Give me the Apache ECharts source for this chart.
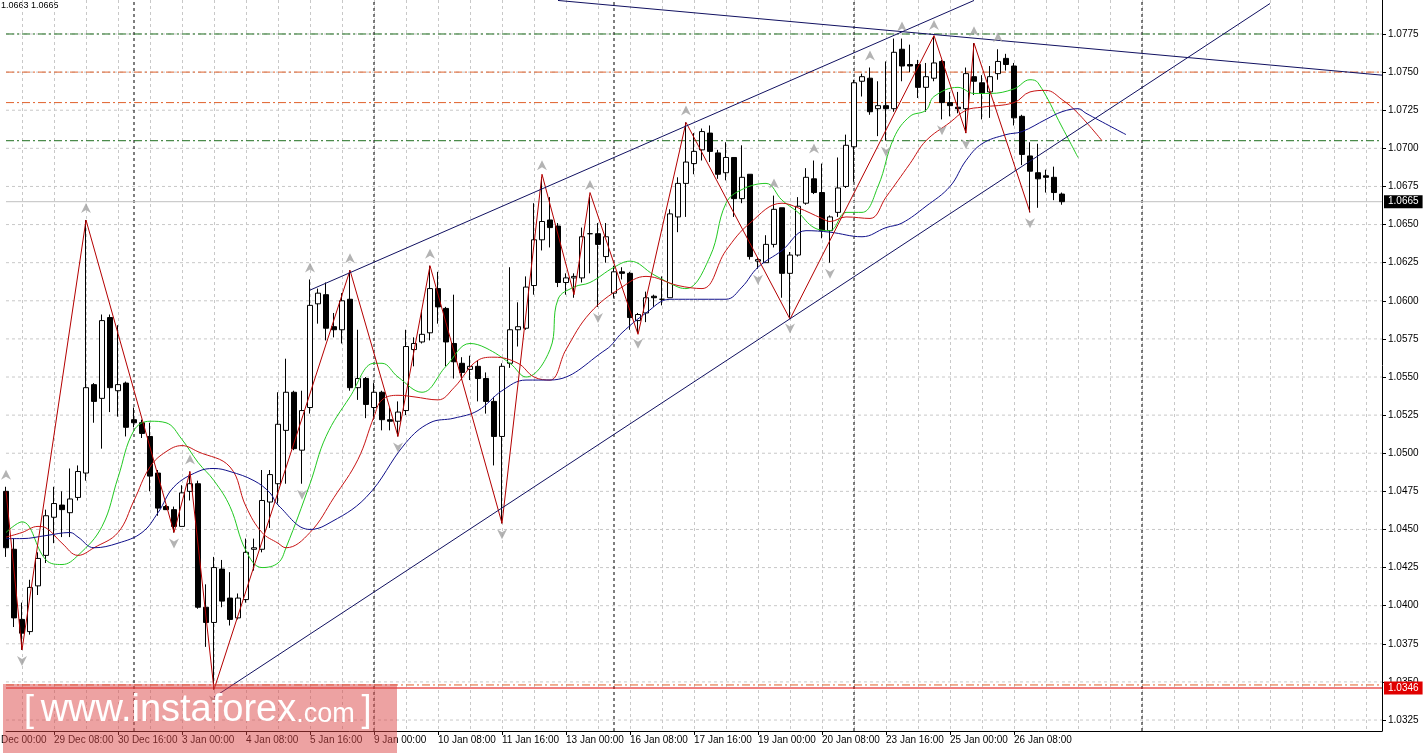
<!DOCTYPE html>
<html>
<head>
<meta charset="utf-8">
<script src="https://cdn.jsdelivr.net/npm/echarts@6/dist/echarts.min.js"></script>
<style>
  html, body { margin: 0; padding: 0; background: #fff; }
  #chart { width: 1425px; height: 753px; }
</style>
</head>
<body>
<div id="chart"></div>
<script>
// H4 candles, prices in pips (x 0.0001)
const opens = [10475,10437,10391,10383,10413,10433,10458,10466,10461,10471,10487,10545,10536,10589,10541,10546,10522,10520,10511,10487,10465,10463,10452,10475,10480,10399,10389,10424,10405,10392,10404,10437,10437,10468,10480,10515,10540,10502,10530,10598,10604,10583,10581,10601,10543,10549,10530,10540,10522,10521,10528,10568,10573,10579,10608,10595,10572,10559,10555,10557,10549,10534,10511,10559,10581,10582,10610,10640,10653,10649,10612,10615,10615,10644,10644,10629,10605,10619,10618,10587,10592,10603,10601,10602,10655,10677,10690,10699,10710,10697,10684,10694,10667,10683,10626,10625,10637,10661,10618,10630,10664,10680,10671,10646,10658,10675,10701,10744,10746,10726,10728,10726,10765,10755,10755,10740,10746,10757,10730,10727,10726,10747,10743,10737,10749,10759,10754,10721,10695,10684,10682,10681,10670];
const closes = [10438,10392,10382,10412,10431,10459,10467,10463,10470,10488,10543,10534,10587,10543,10545,10517,10520,10513,10485,10464,10463,10452,10474,10480,10399,10389,10425,10403,10391,10405,10435,10438,10469,10486,10519,10540,10503,10528,10597,10605,10582,10581,10600,10543,10549,10532,10540,10522,10521,10527,10570,10572,10578,10608,10596,10573,10560,10553,10557,10549,10534,10511,10557,10581,10583,10609,10640,10652,10648,10612,10615,10616,10642,10644,10637,10642,10619,10618,10589,10591,10602,10602,10601,10657,10677,10691,10698,10711,10698,10683,10694,10667,10681,10629,10627,10637,10660,10618,10630,10662,10681,10671,10646,10655,10674,10702,10743,10747,10724,10728,10726,10763,10754,10754,10740,10747,10756,10730,10728,10726,10749,10744,10736,10747,10757,10755,10720,10696,10685,10680,10681,10671,10665];
const highs = [10478,10444,10402,10417,10435,10463,10478,10475,10490,10492,10653,10546,10591,10591,10584,10547,10530,10522,10520,10489,10466,10465,10479,10488,10482,10414,10432,10430,10422,10408,10444,10444,10489,10489,10540,10562,10541,10541,10614,10608,10612,10592,10605,10620,10581,10550,10546,10541,10530,10534,10581,10576,10594,10623,10619,10596,10604,10563,10564,10561,10553,10537,10559,10622,10599,10616,10664,10681,10668,10651,10618,10618,10648,10668,10651,10651,10623,10622,10619,10592,10606,10604,10616,10660,10681,10717,10710,10713,10715,10699,10704,10694,10702,10683,10628,10643,10669,10661,10632,10668,10687,10692,10690,10656,10694,10709,10745,10749,10753,10744,10757,10772,10772,10768,10758,10756,10773,10758,10737,10737,10753,10769,10748,10754,10765,10762,10756,10722,10704,10703,10686,10688,10671];
const lows = [10432,10386,10371,10381,10407,10428,10441,10445,10445,10469,10482,10520,10503,10527,10524,10511,10517,10510,10475,10459,10463,10448,10452,10469,10398,10373,10345,10399,10387,10391,10402,10423,10435,10451,10467,10480,10502,10480,10526,10585,10574,10576,10572,10541,10535,10523,10522,10515,10515,10511,10525,10557,10572,10574,10585,10557,10549,10548,10548,10534,10526,10492,10454,10556,10570,10581,10604,10633,10635,10609,10604,10602,10612,10618,10596,10625,10602,10614,10581,10579,10586,10596,10597,10602,10645,10655,10683,10692,10691,10680,10679,10655,10664,10627,10621,10625,10635,10602,10589,10629,10663,10670,10641,10625,10655,10674,10678,10734,10722,10708,10705,10724,10744,10750,10733,10724,10744,10719,10721,10723,10710,10735,10719,10720,10745,10751,10715,10689,10658,10661,10671,10666,10663];

// moving averages: [bar index, pips]
const maGreen = [[0,10448],[2,10455],[5,10430],[7,10427],[9,10433],[12,10452],[14,10484],[16,10515],[18,10521],[20,10520],[22,10509],[24,10494],[26,10482],[28,10465],[30,10436],[32,10425],[34,10428],[35,10438],[38,10480],[40,10511],[43,10537],[46,10559],[47,10559],[49,10550],[52,10540],[55,10557],[58,10572],[60,10569],[63,10559],[65,10550],[68,10568],[69,10601],[71,10609],[73,10612],[76,10622],[78,10626],[81,10617],[84,10609],[85,10608],[88,10629],[90,10664],[92,10673],[95,10677],[97,10666],[99,10658],[101,10648],[103,10646],[105,10658],[107,10658],[109,10675],[111,10707],[113,10721],[115,10725],[116,10734],[119,10740],[121,10736],[123,10736],[126,10739],[128,10745],[129,10743],[132,10714],[134,10694]];
const maRed = [[0,10445],[2,10448],[4,10452],[5,10451],[7,10441],[9,10433],[11,10438],[14,10448],[16,10469],[18,10491],[20,10501],[22,10505],[24,10501],[28,10491],[30,10465],[32,10448],[34,10441],[35,10438],[38,10448],[41,10471],[44,10496],[46,10524],[47,10535],[49,10538],[51,10537],[54,10535],[56,10543],[59,10561],[61,10563],[64,10559],[66,10550],[68,10548],[70,10568],[73,10592],[77,10609],[80,10616],[84,10610],[87,10608],[90,10633],[93,10651],[97,10664],[99,10661],[102,10654],[103,10652],[105,10655],[108,10654],[110,10668],[113,10690],[115,10705],[118,10717],[120,10725],[122,10727],[126,10730],[128,10737],[130,10738],[132,10732],[134,10723],[137,10705]];
const maBlue = [[0,10444],[2,10444],[5,10446],[8,10448],[9,10445],[11,10438],[14,10441],[17,10448],[19,10461],[21,10478],[24,10488],[26,10490],[28,10488],[31,10482],[33,10474],[34,10466],[38,10450],[40,10453],[45,10471],[50,10507],[53,10520],[56,10523],[59,10528],[62,10541],[65,10548],[68,10548],[75,10568],[77,10579],[80,10592],[83,10601],[87,10601],[90,10601],[92,10609],[94,10622],[97,10633],[100,10646],[103,10645],[107,10642],[110,10648],[112,10651],[115,10662],[118,10675],[120,10692],[122,10703],[125,10709],[127,10711],[130,10719],[132,10724],[134,10726],[135,10723],[140,10709]];

// zigzag pivots
const zigzag = [[0,10475],[2,10371],[10,10653],[21,10448],[23,10488],[26,10345],[43,10620],[49,10511],[53,10623],[62,10454],[67,10683],[71,10604],[73,10671],[79,10578],[85,10717],[98,10588],[116,10774],[120,10710],[121,10769],[128,10658]];
// drawn trend lines
const lineTop = [[69,10797],[172,10748]];
const channelUp = [[38,10607],[121,10797]];
const channelLow = [[26,10340],[158,10795]];

const fractalUp = [0,10,23,38,43,53,67,73,85,96,101,108,112,116,121,124];
const fractalDown = [2,21,26,37,49,62,74,79,94,98,103,110,117,120,128];

const levelsGreen = [10775, 10705];
const levelsOrange = [10750, 10730, 10348];
const supportLevel = 10346;
const lastPrice = 10665;
const priceTicks = [10325,10350,10375,10400,10425,10450,10475,10500,10525,10550,10575,10600,10625,10650,10675,10700,10725,10750,10775];
const weekStarts = [16, 46, 76, 106, 142];

const labelIdx = [6,14,22,30,38,46,54,62,70,78,86,94,102,110,118,126];
const labelText = ['29 Dec 08:00','30 Dec 16:00','3 Jan 00:00','4 Jan 08:00','5 Jan 16:00','9 Jan 00:00','10 Jan 08:00','11 Jan 16:00','13 Jan 00:00','16 Jan 08:00','17 Jan 16:00','19 Jan 00:00','20 Jan 08:00','23 Jan 16:00','25 Jan 00:00','26 Jan 08:00'];

const N = 173;
const Y_MIN = 1.03178, Y_MAX = 1.07973;
const P = v => v / 10000;
const cats = Array.from({length: N}, (_, i) => String(i));
const candles = opens.map((o, i) => [P(o), P(closes[i]), P(lows[i]), P(highs[i])]);
const pts = arr => arr.map(d => [d[0], P(d[1])]);
const labelMap = {};
labelIdx.forEach((ix, k) => labelMap[ix] = labelText[k]);

const chart = echarts.init(document.getElementById('chart'));
const font = 'Liberation Sans';
const dashDot = [8, 3, 2, 3];

function hLine(v, color, type, z, tag) {
    const s = {type: 'line', data: [[0, P(v)], [N - 1, P(v)]], showSymbol: false, silent: true,
        lineStyle: {color: color, type: type, width: 1}, z: z};
    if (tag) {
        s.endLabel = {show: true, formatter: P(v).toFixed(4), backgroundColor: tag.bg, color: tag.fg,
            padding: [2, 4, 1, 4], fontSize: 10, fontFamily: font, distance: 2};
    }
    return s;
}
function vLine(ix) {
    return {type: 'line', data: [[ix, Y_MIN], [ix, Y_MAX]], showSymbol: false, silent: true,
        lineStyle: {color: '#000', type: [3, 3], width: 1}, z: 1};
}

const upArrow = 'path://M5 0 L10 10 L5 7 L0 10 Z';
const downArrow = 'path://M0 0 L5 3 L10 0 L5 10 Z';

const series = [];
priceTicks.forEach(v => series.push(hLine(v, '#c8c8c8', [3, 3], 1)));
weekStarts.forEach(ix => series.push(vLine(ix)));
levelsGreen.forEach(v => series.push(hLine(v, '#1e6e1e', dashDot, 2)));
levelsOrange.forEach(v => series.push(hLine(v, '#e0602a', dashDot, 2)));
series.push(hLine(lastPrice, '#c0c0c0', 'solid', 2, {bg: '#000', fg: '#fff'}));
series.push(hLine(supportLevel, '#e00000', 'solid', 2, {bg: '#e00000', fg: '#fff'}));
series.push(
    {
        type: 'candlestick',
        data: candles,
        barWidth: 5,
        itemStyle: {color: '#fff', color0: '#000', borderColor: '#000', borderColor0: '#000', borderWidth: 1},
        z: 3
    },
    {type: 'line', data: pts(maGreen), smooth: 0.4, showSymbol: false, lineStyle: {color: '#22c922', width: 1}, z: 4},
    {type: 'line', data: pts(maRed), smooth: 0.4, showSymbol: false, lineStyle: {color: '#c81414', width: 1}, z: 4},
    {type: 'line', data: pts(maBlue), smooth: 0.4, showSymbol: false, lineStyle: {color: '#10108a', width: 1}, z: 4},
    {type: 'line', data: pts(zigzag), showSymbol: false, lineStyle: {color: '#b40000', width: 1}, z: 5},
    {type: 'line', data: pts(lineTop), showSymbol: false, lineStyle: {color: '#101060', width: 1}, z: 5},
    {type: 'line', data: pts(channelUp), showSymbol: false, lineStyle: {color: '#101060', width: 1}, z: 5},
    {type: 'line', data: pts(channelLow), showSymbol: false, lineStyle: {color: '#101060', width: 1}, z: 5},
    {type: 'scatter', data: fractalUp.map(i => [i, P(highs[i])]), symbol: upArrow, symbolSize: [10, 10], symbolOffset: [0, -12],
        itemStyle: {color: '#a0a0a0'}, z: 6},
    {type: 'scatter', data: fractalDown.map(i => [i, P(lows[i])]), symbol: downArrow, symbolSize: [10, 10], symbolOffset: [0, 11],
        itemStyle: {color: '#a0a0a0'}, z: 6}
);

chart.setOption({
    animation: false,
    backgroundColor: '#fff',
    grid: {left: 6, top: 0, right: 43, bottom: 22},
    xAxis: {
        type: 'category',
        data: cats,
        boundaryGap: false,
        axisLine: {lineStyle: {color: '#000'}},
        axisTick: {show: true, length: 4, interval: i => labelMap[i] !== undefined, lineStyle: {color: '#000'}},
        axisLabel: {interval: 0, align: 'left', margin: 4, fontSize: 10, fontFamily: font, color: '#000',
            formatter: (v, i) => labelMap[i] || ''},
        splitLine: {show: true, interval: i => (i - 2) % 4 === 0, lineStyle: {color: '#c8c8c8', type: [3, 3]}}
    },
    yAxis: {
        type: 'value',
        position: 'right',
        min: Y_MIN,
        max: Y_MAX,
        axisLine: {show: true, lineStyle: {color: '#000'}},
        axisTick: {show: true, length: 4, customValues: priceTicks.map(P), lineStyle: {color: '#000'}},
        axisLabel: {customValues: priceTicks.map(P), formatter: v => v.toFixed(4), fontSize: 10, fontFamily: font, color: '#000', margin: 6},
        splitLine: {show: false}
    },
    series: series,
    graphic: [
        {type: 'text', left: 1, top: 1, style: {text: '1.0663 1.0665', fontSize: 9, fontFamily: font, fill: '#000'}},
        {type: 'text', left: 1, top: 735, style: {text: 'Dec 00:00', fontSize: 10, fontFamily: font, fill: '#000'}},
        {type: 'rect', shape: {x: 3, y: 684, width: 394, height: 69}, style: {fill: 'rgba(220,70,70,0.5)'}, z: 100},
        {type: 'text', left: 24, top: 692, z: 101, style: {
            text: '{b|[}  {w|www.instaforex}{c|.com}  {b|]}', fill: '#fff', fontFamily: 'Liberation Sans',
            rich: {b: {fontSize: 36, fill: '#fff', fontFamily: 'Liberation Sans'},
                   w: {fontSize: 38, fill: '#fff', fontFamily: 'Liberation Sans'},
                   c: {fontSize: 27, fill: '#fff', fontFamily: 'Liberation Sans', padding: [8, 0, 0, 0]}}}}
    ]
});
</script>
</body>
</html>
